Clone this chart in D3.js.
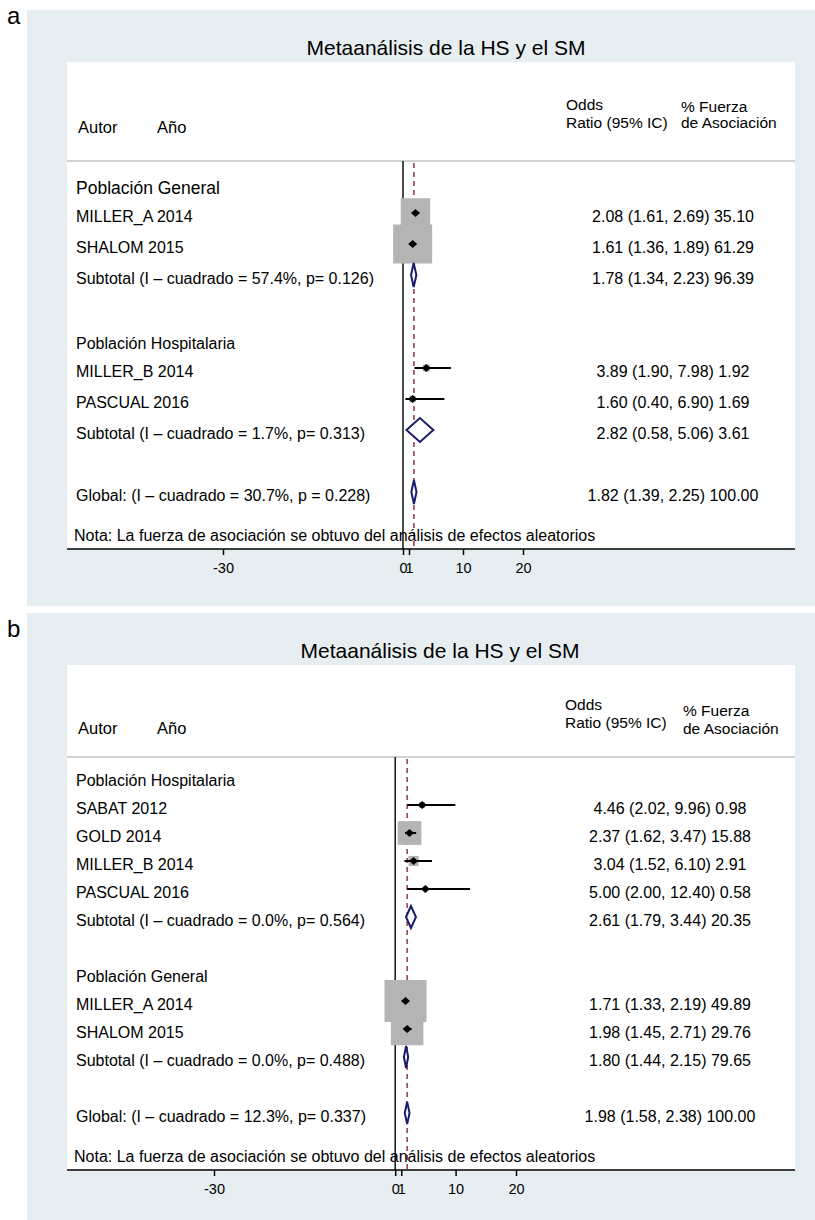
<!DOCTYPE html>
<html><head><meta charset="utf-8">
<script src="https://cdn.jsdelivr.net/npm/d3@7"></script>
<style>
html,body{margin:0;padding:0;background:#fff;}
svg{display:block;font-family:"Liberation Sans",Arial,Helvetica,sans-serif;}
</style></head><body>
<svg id="chart" width="815" height="1220"></svg>
<script>
// ---------- shared texts ----------
const titleText = "Metaanálisis de la HS y el SM";
const headerAutor = "Autor";
const headerAnio = "Año";
const headerOR = ["Odds", "Ratio (95% IC)"];
const headerW = ["% Fuerza", "de Asociación"];
const notaText = "Nota: La fuerza de asociación se obtuvo del análisis de efectos aleatorios";
const tickValues = [-30, 0, 1, 10, 20];
const tickLabels = ["-30", "0", "1", "10", "20"];

// ---------- panel a data ----------
const typesA = ["group","study","study","subtotal","blank","group","study","study","subtotal","blank","overall"];
const labelsA = ["Población General","MILLER_A 2014","SHALOM 2015","Subtotal (I – cuadrado = 57.4%, p= 0.126)","",
  "Población Hospitalaria","MILLER_B 2014","PASCUAL 2016","Subtotal (I – cuadrado = 1.7%, p= 0.313)","",
  "Global: (I – cuadrado = 30.7%, p = 0.228)"];
const orA = [null,2.08,1.61,1.78,null,null,3.89,1.60,2.82,null,1.82];
const loA = [null,1.61,1.36,1.34,null,null,1.90,0.40,0.58,null,1.39];
const hiA = [null,2.69,1.89,2.23,null,null,7.98,6.90,5.06,null,2.25];
const wA  = [null,35.10,61.29,96.39,null,null,1.92,1.69,3.61,null,100.00];

// ---------- panel b data ----------
const typesB = ["group","study","study","study","study","subtotal","blank","group","study","study","subtotal","blank","overall"];
const labelsB = ["Población Hospitalaria","SABAT 2012","GOLD 2014","MILLER_B 2014","PASCUAL 2016",
  "Subtotal (I – cuadrado = 0.0%, p= 0.564)","","Población General","MILLER_A 2014","SHALOM 2015",
  "Subtotal (I – cuadrado = 0.0%, p= 0.488)","","Global: (I – cuadrado = 12.3%, p= 0.337)"];
const orB = [null,4.46,2.37,3.04,5.00,2.61,null,null,1.71,1.98,1.80,null,1.98];
const loB = [null,2.02,1.62,1.52,2.00,1.79,null,null,1.33,1.45,1.44,null,1.58];
const hiB = [null,9.96,3.47,6.10,12.40,3.44,null,null,2.19,2.71,2.15,null,2.38];
const wB  = [null,0.98,15.88,2.91,0.58,20.35,null,null,49.89,29.76,79.65,null,100.00];

const svg = d3.select("#chart");
const BG = "#e6eef1";

function drawPanel(cfg, d) {
  const g = svg.append("g");
  g.append("rect").attr("x", 27).attr("y", cfg.bgTop).attr("width", 788)
    .attr("height", cfg.bgBottom - cfg.bgTop).attr("fill", BG);
  g.append("text").attr("x", 7).attr("y", cfg.letterY).attr("font-size", 24).text(cfg.letter);
  g.append("text").attr("x", cfg.titleX).attr("y", cfg.titleY).attr("text-anchor", "middle")
    .attr("font-size", 21).text(titleText);
  g.append("rect").attr("x", 67).attr("y", cfg.whiteTop).attr("width", 728)
    .attr("height", cfg.axisY - cfg.whiteTop).attr("fill", "#fff");

  // header
  g.append("text").attr("x", 78).attr("y", cfg.autorY).attr("font-size", 16.5).text(headerAutor);
  g.append("text").attr("x", 157).attr("y", cfg.autorY).attr("font-size", 16.5).text(headerAnio);
  headerOR.forEach((t, i) => g.append("text").attr("x", cfg.oddsX).attr("y", cfg.oddsY[i])
    .attr("font-size", 15.5).text(t));
  headerW.forEach((t, i) => g.append("text").attr("x", cfg.wX).attr("y", cfg.wY[i])
    .attr("font-size", 15.5).text(t));
  g.append("line").attr("x1", 67).attr("x2", 795).attr("y1", cfg.headerLine).attr("y2", cfg.headerLine)
    .attr("stroke", "#d2d2d2").attr("stroke-width", 2);

  const x = d3.scaleLinear().domain([-30, 20]).range(cfg.xRange);
  const y = d3.scaleLinear().domain([0, d.types.length - 1]).range(cfg.yRange);
  const studyW = d.w.filter((v, i) => d.types[i] === "study");
  const size = d3.scaleSqrt().domain([0, d3.max(studyW)]).range([0, cfg.maxBox]);
  const overallIdx = d.types.indexOf("overall");

  // reference lines
  g.append("line").attr("x1", x(0)).attr("x2", x(0)).attr("y1", cfg.headerLine).attr("y2", cfg.axisY)
    .attr("stroke", "#111").attr("stroke-width", 1.5);
  g.append("line").attr("x1", x(d.or[overallIdx])).attr("x2", x(d.or[overallIdx]))
    .attr("y1", cfg.headerLine + 2).attr("y2", cfg.axisY)
    .attr("stroke", "#9a3344").attr("stroke-width", 1.5).attr("stroke-dasharray", "5,4");

  const idx = d3.range(d.types.length);
  const studies = idx.filter(i => d.types[i] === "study");
  const pooled = idx.filter(i => d.types[i] === "subtotal" || d.types[i] === "overall");

  // boxes
  g.selectAll(".box").data(studies).join("rect").attr("class", "box")
    .attr("x", i => x(d.or[i]) - size(d.w[i]) / 2).attr("y", i => y(i) - size(d.w[i]) / 2)
    .attr("width", i => size(d.w[i])).attr("height", i => size(d.w[i])).attr("fill", "#b4b4b4");
  // CI lines
  g.selectAll(".ci").data(studies).join("line").attr("class", "ci")
    .attr("x1", i => x(d.lo[i])).attr("x2", i => x(d.hi[i])).attr("y1", i => y(i)).attr("y2", i => y(i))
    .attr("stroke", "#000").attr("stroke-width", 2);
  // point markers
  g.selectAll(".pt").data(studies).join("path").attr("class", "pt")
    .attr("d", i => { const cx = x(d.or[i]), cy = y(i);
      return `M${cx - 4.5},${cy}L${cx},${cy - 4}L${cx + 4.5},${cy}L${cx},${cy + 4}Z`; })
    .attr("fill", "#000");
  // diamonds
  g.selectAll(".dia").data(pooled).join("path").attr("class", "dia")
    .attr("d", i => { const cy = y(i), h = cfg.diamondH / 2;
      return `M${x(d.lo[i])},${cy}L${x(d.or[i])},${cy - h}L${x(d.hi[i])},${cy}L${x(d.or[i])},${cy + h}Z`; })
    .attr("fill", "#fff").attr("stroke", "#1c1c6e").attr("stroke-width", 2);

  // labels
  g.selectAll(".lbl").data(idx.filter(i => d.types[i] !== "blank")).join("text").attr("class", "lbl")
    .attr("x", 76)
    .attr("y", i => y(i) + (d.types[i] === "group" ? cfg.groupDy : 3) + 5.5)
    .attr("font-size", i => (d.types[i] === "group" && cfg.bigGroup.includes(d.labels[i])) ? 17.5 : 16)
    .text(i => d.labels[i]);
  // values
  const f = v => v.toFixed(2);
  g.selectAll(".val").data(idx.filter(i => d.or[i] !== null)).join("text").attr("class", "val")
    .attr("x", cfg.valueX).attr("y", i => y(i) + 3 + 5.5).attr("text-anchor", "middle").attr("font-size", 16)
    .text(i => `${f(d.or[i])} (${f(d.lo[i])}, ${f(d.hi[i])}) ${f(d.w[i])}`);

  // note
  g.append("text").attr("x", 74).attr("y", cfg.noteY).attr("font-size", 16).text(notaText);

  // axis
  g.append("line").attr("x1", 67).attr("x2", 795).attr("y1", cfg.axisY).attr("y2", cfg.axisY)
    .attr("stroke", "#000").attr("stroke-width", 1.5);
  const ax = g.append("g").attr("transform", `translate(0,${cfg.axisY})`)
    .call(d3.axisBottom(x).tickValues(tickValues).tickFormat((v, i) => tickLabels[i])
      .tickSize(6).tickPadding(8));
  ax.select(".domain").remove();
  ax.selectAll(".tick line").attr("stroke", "#000").attr("stroke-width", 1.5);
  ax.selectAll(".tick text").attr("fill", "#000").attr("font-size", 14.5)
    .attr("font-family", "Liberation Sans, Arial, sans-serif");
}

drawPanel({letter: "a", letterY: 24, bgTop: 10, bgBottom: 606, titleX: 446, titleY: 55, whiteTop: 62,
  headerLine: 161, axisY: 549, xRange: [223, 523], yRange: [182, 492], valueX: 673, noteY: 541,
  oddsX: 566, oddsY: [110, 128], wX: 681, wY: [112, 128], autorY: 133, maxBox: 39, diamondH: 24,
  groupDy: 6, bigGroup: ["Población General"]},
  {types: typesA, labels: labelsA, or: orA, lo: loA, hi: hiA, w: wA});

drawPanel({letter: "b", letterY: 637, bgTop: 613, bgBottom: 1220, titleX: 440, titleY: 658, whiteTop: 665,
  headerLine: 757, axisY: 1170, xRange: [214, 516], yRange: [777, 1113], valueX: 670, noteY: 1162,
  oddsX: 565, oddsY: [710, 728], wX: 683, wY: [716, 734], autorY: 734, maxBox: 42, diamondH: 22,
  groupDy: 3, bigGroup: []},
  {types: typesB, labels: labelsB, or: orB, lo: loB, hi: hiB, w: wB});
</script>
</body></html>
